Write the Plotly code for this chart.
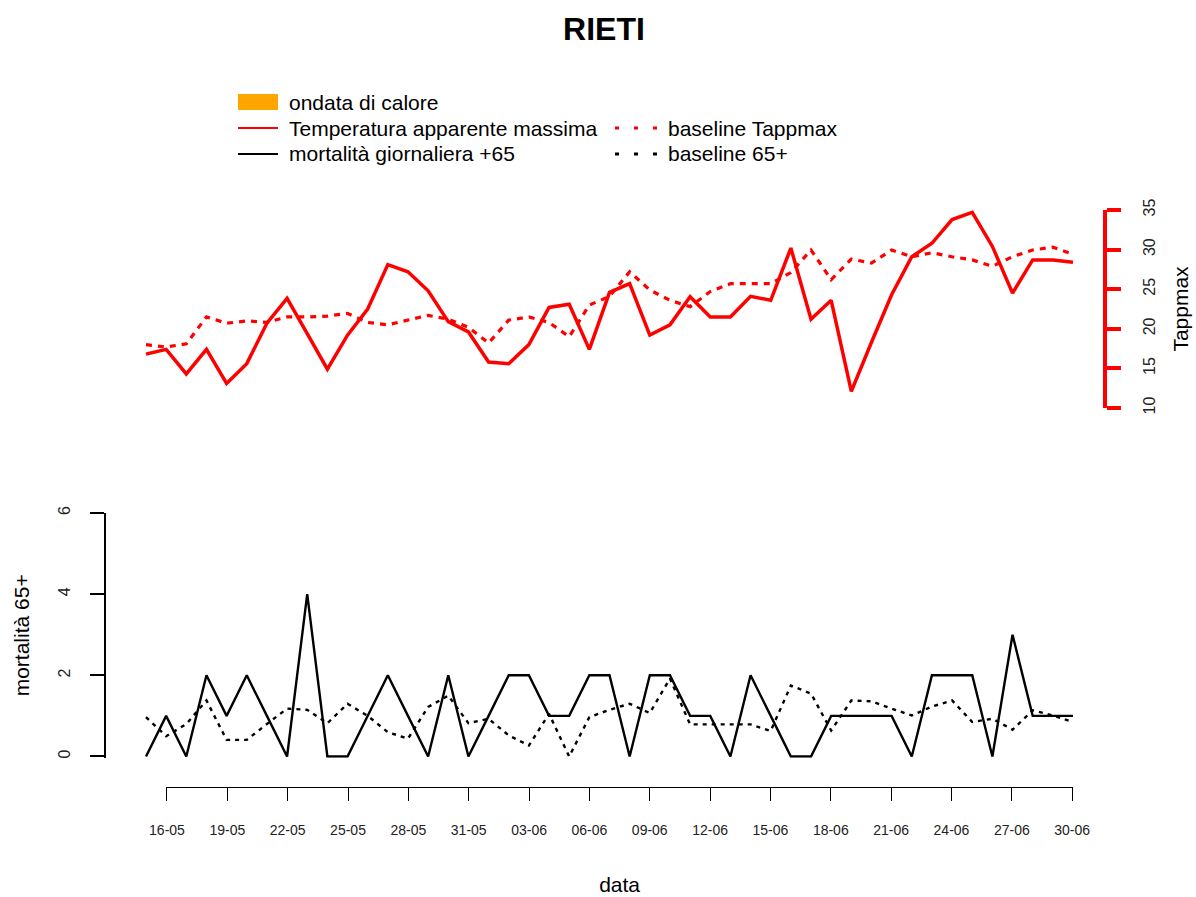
import plotly.graph_objects as go
import pandas as pd

# ---------------- data ----------------
dates = pd.date_range("2019-05-15", "2019-06-30", freq="D")  # 15-05 ... 30-06

tappmax = [16.8, 17.4, 14.3, 17.4, 13.1, 15.6, 20.7, 23.85, 19.4, 14.9,
           19.2, 22.5, 28.1, 27.2, 24.8, 20.9, 19.6, 15.8, 15.6, 18.0,
           22.7, 23.1, 17.4, 24.6, 25.7, 19.2, 20.5, 24.05, 21.5, 21.5,
           24.1, 23.6, 30.2, 21.2, 23.6, 12.1, 18.3, 24.3, 29.1, 30.8,
           33.8, 34.7, 30.4, 24.5, 28.7, 28.7, 28.4]

baseline_tappmax = [18.0, 17.7, 18.1, 21.5, 20.7, 21.0, 20.8, 21.5, 21.5, 21.6,
                    21.95, 20.8, 20.5, 21.1, 21.7, 21.2, 20.2, 18.2, 21.1, 21.5,
                    20.8, 19.0, 23.0, 24.1, 27.2, 24.9, 23.6, 22.8, 24.7, 25.7,
                    25.7, 25.7, 27.1, 29.95, 26.2, 28.8, 28.3, 29.95, 29.1, 29.6,
                    29.1, 28.7, 27.9, 29.1, 29.95, 30.3, 29.4]

mortality_65 = [0, 1, 0, 2, 1, 2, 1, 0, 4, 0,
                0, 1, 2, 1, 0, 2, 0, 1, 2, 2,
                1, 1, 2, 2, 0, 2, 2, 1, 1, 0,
                2, 1, 0, 0, 1, 1, 1, 1, 0, 2,
                2, 2, 0, 3, 1, 1, 1]

baseline_65 = [0.97, 0.5, 0.8, 1.38, 0.41, 0.41, 0.8, 1.18, 1.15, 0.82,
               1.3, 1.0, 0.6, 0.44, 1.22, 1.5, 0.82, 0.93, 0.52, 0.27,
               1.05, 0.0, 0.97, 1.15, 1.3, 1.07, 1.92, 0.79, 0.79, 0.79,
               0.79, 0.63, 1.75, 1.55, 0.64, 1.38, 1.36, 1.18, 1.01, 1.23,
               1.38, 0.85, 0.93, 0.66, 1.14, 1.01, 0.85]

title_text = "RIETI"
legend_labels = ["ondata di calore", "Temperatura apparente massima",
                 "mortalità giornaliera +65", "baseline Tappmax", "baseline 65+"]
tapp_ticks = [10, 15, 20, 25, 30, 35]
mort_ticks = [0, 2, 4, 6]

# ---------------- layout geometry (pixels -> paper) ----------------
W, H = 1196, 897
FONT = "Liberation Sans, Arial, sans-serif"


def fx(px):
    return px / W


def fy(py):
    return 1 - py / H


px_day = (1073 - 146) / 46
x_lo = dates[0] - pd.Timedelta(days=(146 - 106) / px_day)
x_hi = dates[-1] + pd.Timedelta(days=(1103 - 1073) / px_day)
x_dom = [fx(106), fx(1103)]

fig = go.Figure()

fig.add_trace(go.Scatter(x=dates, y=tappmax, mode="lines", name=legend_labels[1],
                         line=dict(color="#ff0000", width=3.5),
                         xaxis="x", yaxis="y", showlegend=False))
fig.add_trace(go.Scatter(x=dates, y=baseline_tappmax, mode="lines", name=legend_labels[3],
                         line=dict(color="#ff0000", width=3.2, dash="6px,6px"),
                         xaxis="x", yaxis="y", showlegend=False))
fig.add_trace(go.Scatter(x=dates, y=mortality_65, mode="lines", name=legend_labels[2],
                         line=dict(color="#000000", width=2.4),
                         xaxis="x2", yaxis="y2", showlegend=False))
fig.add_trace(go.Scatter(x=dates, y=baseline_65, mode="lines", name=legend_labels[4],
                         line=dict(color="#000000", width=2.4, dash="4px,5px"),
                         xaxis="x2", yaxis="y2", showlegend=False))
# carrier for the date axis drawn below the lower panel
fig.add_trace(go.Scatter(x=[dates[1], dates[-1]], y=[None, None], mode="lines",
                         xaxis="x3", yaxis="y2", showlegend=False, hoverinfo="skip"))

common = dict(showgrid=False, zeroline=False, automargin=False)

fig.update_layout(
    template="none",
    width=W, height=H,
    margin=dict(l=0, r=0, t=0, b=0),
    paper_bgcolor="white", plot_bgcolor="rgba(0,0,0,0)",
    font=dict(family=FONT, color="black"),
    showlegend=False,
    title=dict(text="<b>" + title_text + "</b>", x=fx(604), y=fy(29),
               xanchor="center", yanchor="middle",
               font=dict(family=FONT, size=32, color="black")),
    xaxis=dict(domain=x_dom, range=[x_lo, x_hi], visible=False, anchor="y", **common),
    yaxis=dict(domain=[fy(408), fy(210)], range=[10, 35], anchor="x", side="right",
               showline=True, linecolor="#ff0000", linewidth=3.5,
               ticks="outside", ticklen=14, tickwidth=3.5, tickcolor="#ff0000",
               tickmode="array", tickvals=tapp_ticks, tickangle=-90,
               tickfont=dict(size=16, color="#222222"), ticklabelstandoff=15,
               title=dict(text="Tappmax", font=dict(size=21, color="black"), standoff=17),
               **common),
    xaxis2=dict(domain=x_dom, range=[x_lo, x_hi], visible=False, anchor="y2", **common),
    yaxis2=dict(domain=[fy(757.7), fy(513)], range=[-0.03, 6], anchor="x2", side="left",
                showline=True, linecolor="black", linewidth=2,
                ticks="outside", ticklen=14, tickwidth=2, tickcolor="black",
                tickmode="array", tickvals=mort_ticks, tickangle=-90,
                tickfont=dict(size=16, color="#222222"), ticklabelstandoff=14,
                title=dict(text="mortalità 65+", font=dict(size=21, color="black"), standoff=20),
                **common),
    xaxis3=dict(domain=[fx(146 + px_day), fx(1073)],
                range=[dates[1] - pd.Timedelta(hours=1), dates[-1] + pd.Timedelta(hours=1)],
                anchor="free", position=fy(787),
                showline=True, linecolor="black", linewidth=1,
                ticks="outside", ticklen=13, tickwidth=1, tickcolor="black",
                tickmode="linear", tick0=dates[1], dtick=3 * 86400000, tickformat="%d-%m",
                tickfont=dict(size=14, color="#222222"), ticklabelstandoff=17,
                title=dict(text="data", font=dict(size=21, color="black"), standoff=40),
                **common),
)

# ---------------- manual legend (two columns, as in the original) ----------------
shapes = []
annotations = []
rows = [102, 128, 154]
# col 1
shapes.append(dict(type="rect", xref="paper", yref="paper",
                   x0=fx(238), x1=fx(278), y0=fy(110), y1=fy(94),
                   fillcolor="orange", line=dict(width=0)))
shapes.append(dict(type="line", xref="paper", yref="paper",
                   x0=fx(238), x1=fx(278), y0=fy(rows[1]), y1=fy(rows[1]),
                   line=dict(color="#ff0000", width=2.2)))
shapes.append(dict(type="line", xref="paper", yref="paper",
                   x0=fx(238), x1=fx(278), y0=fy(rows[2]), y1=fy(rows[2]),
                   line=dict(color="black", width=2.2)))
# col 2
shapes.append(dict(type="line", xref="paper", yref="paper",
                   x0=fx(615), x1=fx(658), y0=fy(rows[1]), y1=fy(rows[1]),
                   line=dict(color="#ff0000", width=3, dash="4px,15px")))
shapes.append(dict(type="line", xref="paper", yref="paper",
                   x0=fx(615), x1=fx(658), y0=fy(rows[2]), y1=fy(rows[2]),
                   line=dict(color="black", width=3, dash="4px,15px")))

legend_pos = [(287, rows[0], legend_labels[0]), (287, rows[1], legend_labels[1]),
              (287, rows[2], legend_labels[2]), (666, rows[1], legend_labels[3]),
              (666, rows[2], legend_labels[4])]
for xp, yp, txt in legend_pos:
    annotations.append(dict(text=txt, xref="paper", yref="paper", x=fx(xp), y=fy(yp),
                            xanchor="left", yanchor="middle", showarrow=False,
                            font=dict(family=FONT, size=21, color="black")))

fig.update_layout(shapes=shapes, annotations=annotations)

fig.write_html("out.html",
               config={"displayModeBar": False},
               post_script="document.body.style.margin='0';"
                           "document.body.style.overflow='hidden';")
